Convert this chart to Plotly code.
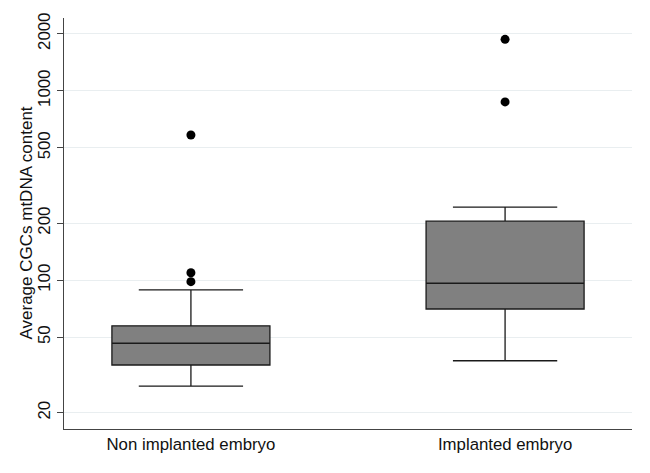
import plotly.graph_objects as go

categories = ["Non implanted embryo", "Implanted embryo"]
positions = [0, 1]
q1 = [35.7, 70.5]
median = [46.5, 96.4]
q3 = [57.5, 205.0]
lower_whisker = [27.6, 37.6]
upper_whisker = [89.0, 243.0]
outlier_pos = [0, 0, 0, 1, 1]
outlier_vals = [98.3, 109.6, 584.0, 873.0, 1868.0]

y_ticks = [20, 50, 100, 200, 500, 1000, 2000]
y_title = "Average CGCs mtDNA content"

FS = 16.8

fig = go.Figure()
fig.add_trace(go.Box(
    x=positions, q1=q1, median=median, q3=q3,
    lowerfence=lower_whisker, upperfence=upper_whisker,
    width=0.503, whiskerwidth=0.66,
    fillcolor="#808080", line=dict(color="#1a1a1a", width=1.3),
    boxpoints=False, showlegend=False, hoverinfo="y",
))
fig.add_trace(go.Scatter(
    x=outlier_pos, y=outlier_vals, mode="markers",
    marker=dict(color="black", size=9), showlegend=False,
))

fig.update_layout(
    width=642, height=465,
    margin=dict(l=56, r=18, t=10, b=44),
    paper_bgcolor="white", plot_bgcolor="white",
    font=dict(family="Liberation Sans, Arial, sans-serif", size=FS, color="#111"),
    annotations=[dict(
        text=y_title, xref="paper", yref="paper", x=0, y=0.5,
        xanchor="center", yanchor="middle", xshift=-38, textangle=-90,
        showarrow=False, font=dict(size=17),
    )],
)
fig.update_xaxes(
    tickmode="array", tickvals=positions, ticktext=categories,
    range=[-0.404, 1.404], showgrid=False, zeroline=False,
    showline=True, linecolor="#444", linewidth=1, ticks="",
    tickfont=dict(size=FS), automargin=False,
)
fig.update_yaxes(
    type="log", range=[1.215, 3.384],
    tickmode="array", tickvals=y_ticks, ticktext=[str(v) for v in y_ticks],
    tickangle=-90, ticks="outside", ticklen=6, tickcolor="#444",
    showline=True, linecolor="#444", linewidth=1,
    showgrid=True, gridcolor="#e9eef0", gridwidth=1, zeroline=False,
    tickfont=dict(size=FS), automargin=False,
)

fig.write_html("out.html")
